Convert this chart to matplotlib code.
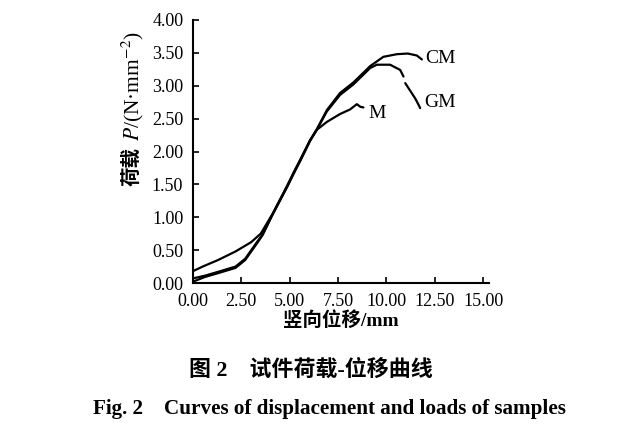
import matplotlib
matplotlib.use("Agg")
import matplotlib.pyplot as plt
import numpy as np

plt.rcParams['mathtext.fontset'] = 'stix'

# Data
cm_x = [0.0, 0.5, 1.3, 2.2, 3.0, 3.5, 4.15, 4.85, 5.2, 5.55, 6.05, 6.4, 6.92, 7.6, 8.29, 9.16, 9.84, 10.54, 11.1, 11.57, 11.83]
cm_y = [0.18, 0.25, 0.35, 0.48, 0.62, 0.75, 1.07, 1.46, 1.67, 1.87, 2.17, 2.34, 2.63, 2.89, 3.05, 3.30, 3.44, 3.48, 3.49, 3.46, 3.40]

gm_x = [0.0, 0.6, 1.3, 2.2, 2.7, 3.3, 3.6, 4.15, 4.85, 5.2, 5.55, 6.05, 6.4, 6.92, 7.6, 8.29, 9.16, 9.5, 10.19, 10.71, 10.88, 10.93, 10.97, 11.48, 11.66, 11.74]
gm_y = [0.07, 0.11, 0.17, 0.25, 0.37, 0.62, 0.74, 1.06, 1.45, 1.66, 1.86, 2.16, 2.33, 2.61, 2.86, 3.02, 3.27, 3.32, 3.32, 3.24, 3.14, np.nan, 3.04, 2.81, 2.71, 2.66]

m_x = [0.0, 0.6, 1.3, 2.2, 2.7, 3.3, 3.6, 4.15, 4.85, 5.2, 5.55, 6.05, 6.4, 6.92, 7.09, 7.6, 8.12, 8.47, 8.65, 8.81]
m_y = [0.02, 0.09, 0.15, 0.23, 0.35, 0.6, 0.73, 1.07, 1.47, 1.68, 1.88, 2.17, 2.33, 2.45, 2.48, 2.57, 2.64, 2.72, 2.68, 2.67]

x_ticks = [0.0, 2.5, 5.0, 7.5, 10.0, 12.5, 15.0]
y_ticks = [0.0, 0.5, 1.0, 1.5, 2.0, 2.5, 3.0, 3.5, 4.0]

serif = ['Liberation Serif', 'Noto Sans CJK SC']
cjk = ['Noto Sans CJK SC', 'Liberation Serif']

fig = plt.figure(figsize=(6.24, 4.42), dpi=100)
ax = fig.add_axes([193/624, 159/442, 296/624, 263/442])

for xs, ys in [(cm_x, cm_y), (gm_x, gm_y), (m_x, m_y)]:
    ax.plot(xs, ys, color='black', lw=1.6, solid_capstyle='round')

ax.text(12.0, 3.41, 'CM', fontsize=14, family=serif, va='center', ha='left')
ax.text(11.95, 2.74, 'GM', fontsize=14, family=serif, va='center', ha='left')
ax.text(9.05, 2.58, 'M', fontsize=14, family=serif, va='center', ha='left')

ax.set_xlim(0, 15.3)
ax.set_ylim(0, 4.0)
ax.set_xticks(x_ticks)
ax.set_yticks(y_ticks)
ax.set_xticklabels([f'{v:.2f}' for v in x_ticks], family=serif, fontsize=13)
ax.set_yticklabels([f'{v:.2f}' for v in y_ticks], family=serif, fontsize=13)
ax.tick_params(direction='in', length=4, width=1.2)
ax.tick_params(axis='x', pad=7)
ax.tick_params(axis='y', pad=7)
for s in ['top', 'right']:
    ax.spines[s].set_visible(False)
for s in ['left', 'bottom']:
    ax.spines[s].set_linewidth(1.5)

ax.set_xlabel('竖向位移/mm', family=serif, fontsize=14, fontweight='bold', labelpad=1)

# y label: Chinese part bold, symbol part regular serif
fig.text(132/624, 1 - 166/442, '荷载', family=cjk, fontsize=14, fontweight='bold',
         rotation=90, ha='center', va='center')
fig.text(133/624, 1 - 86/442, '$P$/(N·mm$^{-2}$)', family=serif, fontsize=15.5,
         rotation=90, ha='center', va='center')

fig.text(311/624, 1 - 370/442, '图 2    试件荷载-位移曲线', family=serif, fontsize=15.8,
         fontweight='bold', ha='center', va='center')
fig.text(329.5/624, 1 - 409/442, 'Fig. 2    Curves of displacement and loads of samples', family=serif,
         fontsize=15.2, fontweight='bold', ha='center', va='center')

fig.savefig('out.png', dpi=100)
